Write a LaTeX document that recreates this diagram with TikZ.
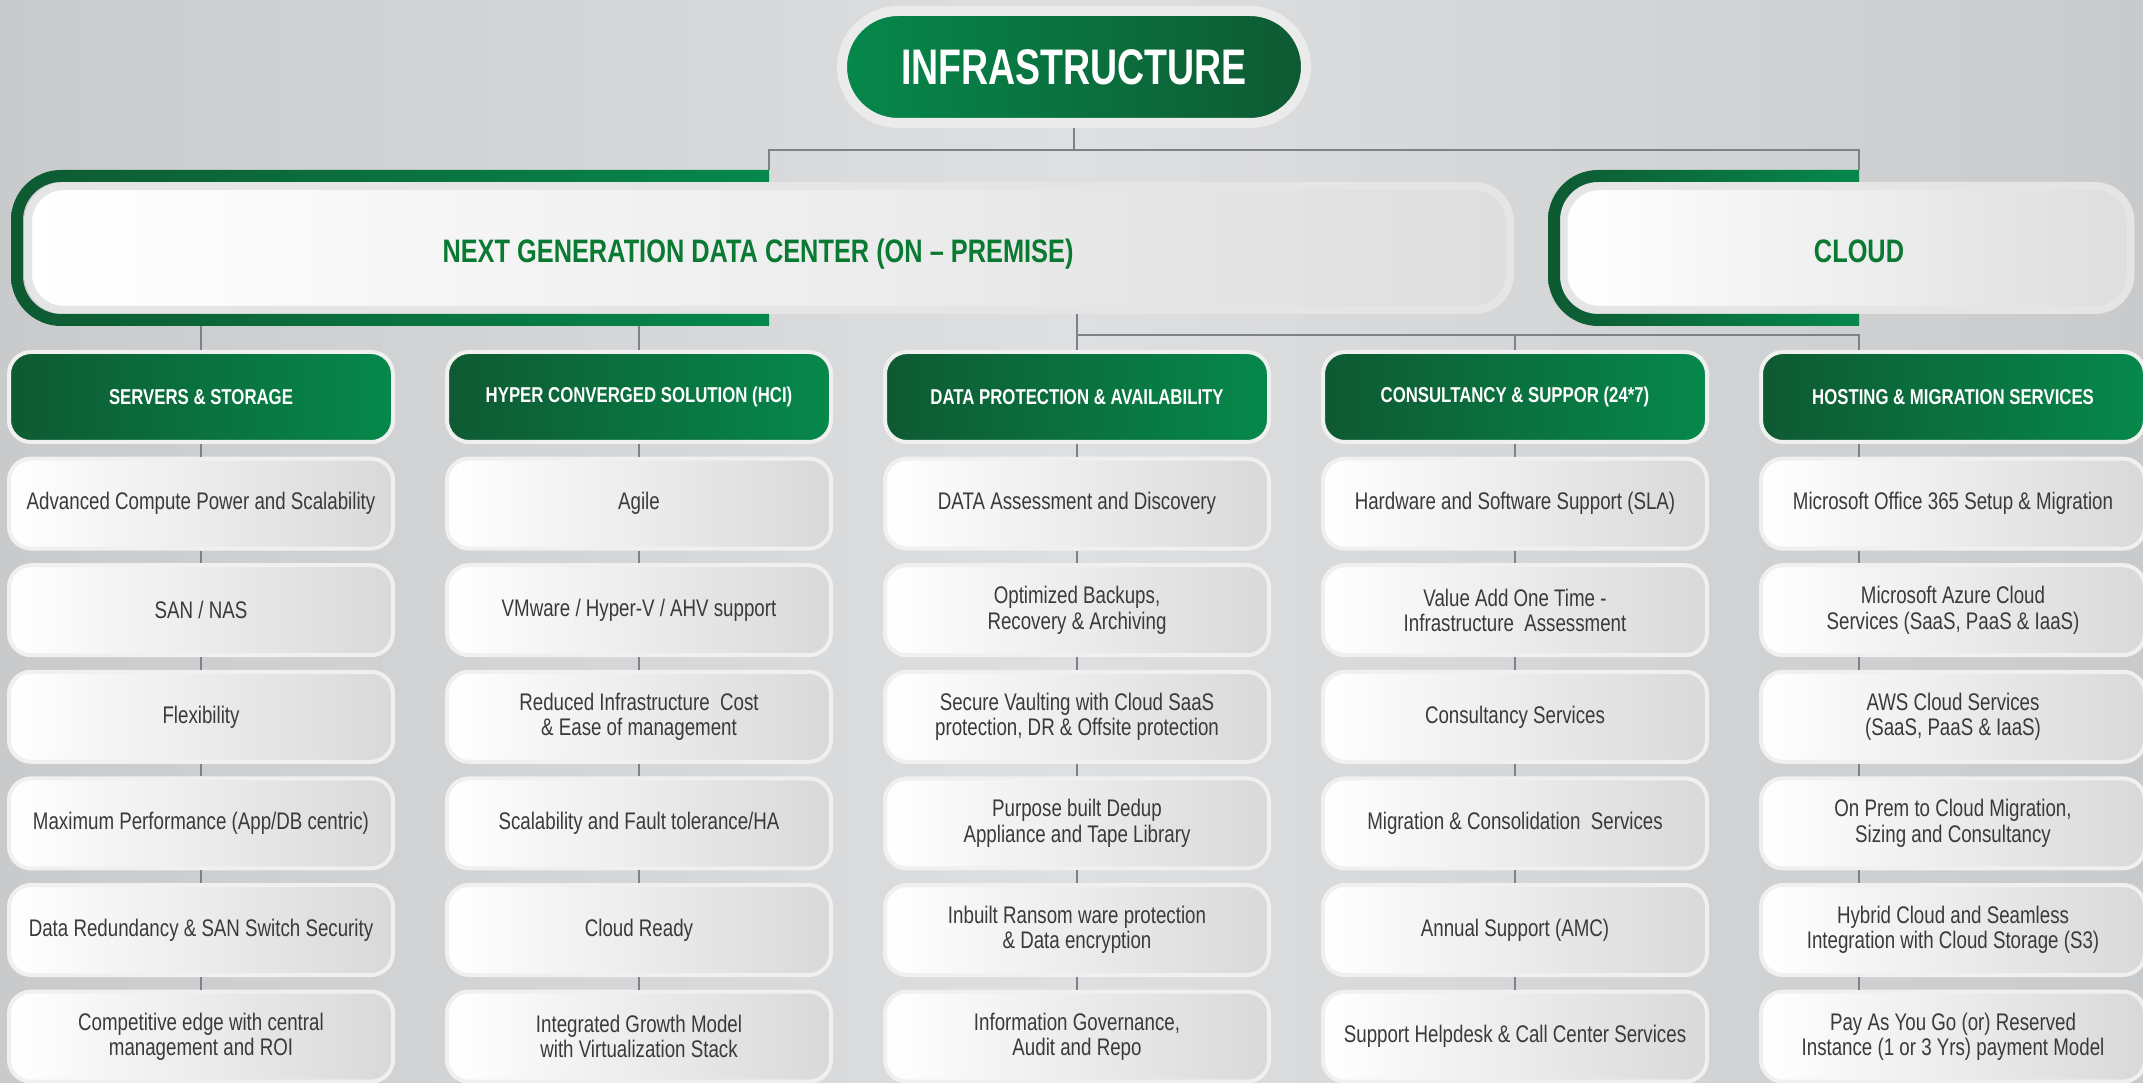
\documentclass[tikz,border=0pt]{standalone}
\usepackage{fontspec}
\setmainfont{Liberation Sans}[FakeStretch=0.78]
\newfontfamily\titlefont{Liberation Sans}[FakeStretch=0.75]
\definecolor{greendark}{HTML}{0E5A32}
\definecolor{greenlight}{HTML}{06884B}
\definecolor{lettercolor}{HTML}{0A7A33}
\definecolor{itemcolor}{HTML}{3A3A3A}
\definecolor{wirecolor}{HTML}{7E8187}
\definecolor{bgside}{HTML}{C9CACC}
\definecolor{bgmid}{HTML}{DEDFE0}
\usetikzlibrary{positioning}
\tikzset{
	topbox/.style={
		rectangle,
		rounded corners=56pt,
		draw=white!92!black,
		line width=10pt,
		left color=greenlight,
		right color=greendark,
		minimum width=464pt,
		minimum height=112pt,
		text=white,
		font=\titlefont\bfseries\fontsize{50}{60}\selectfont
	},
	pill/.style={
		rectangle,
		rounded corners=36pt,
		draw=white!90!black,
		line width=8pt,
		left color=white,
		right color=black!13,
		minimum height=124pt,
		text=lettercolor,
		font=\bfseries\fontsize{32.5}{38}\selectfont
	},
	bracket/.style={
		left color=greendark,
		right color=greenlight
	},
	headbox/.style={
		rectangle,
		rounded corners=22pt,
		draw=white!94!black,
		line width=4pt,
		left color=greendark,
		right color=greenlight,
		minimum width=384pt,
		minimum height=90pt,
		text=white,
		font=\bfseries\fontsize{21.5}{25}\selectfont
	},
	itembox/.style={
		rectangle,
		rounded corners=22pt,
		draw=white!94!black,
		line width=4pt,
		left color=white,
		right color=black!15,
		minimum width=384pt,
		minimum height=90pt,
		align=center,
		text=itemcolor,
		font=\fontsize{24}{25.5}\selectfont
	},
	wire/.style={
		draw=wirecolor,
		line width=2pt
	}
}

\begin{document}
\begin{tikzpicture}[x=1pt,y=1pt,node distance=12.6pt]
	\useasboundingbox (0,0) rectangle (2143,1082);
	\fill[left color=bgside,right color=bgside,middle color=bgmid] (0,0) rectangle (2143,1082);

	% top levels
	\node[topbox] (infra) at (1074,1015) {INFRASTRUCTURE};
	\node[pill,minimum width=1482pt] (ngdc) at (769,834) {\raisebox{-6pt}[\height][\depth]{NEXT GENERATION DATA CENTER (ON – PREMISE)}\hspace*{22pt}};
	\node[pill,minimum width=567pt] (cloud) at (1847,834) {\hspace*{24pt}\raisebox{-3pt}[\height][\depth]{CLOUD}};
	\coordinate (ngdcend) at (769,912);
	\coordinate (cloudend) at (1859,912);

	% column heads
	\node[headbox] (srv) at (201,685) {SERVERS \& STORAGE};
	\node[headbox] (hci) at (639,685) {HYPER CONVERGED SOLUTION (HCI)};
	\node[headbox] (dpa) at (1077,685) {DATA PROTECTION \& AVAILABILITY};
	\node[headbox] (csp) at (1515,685) {CONSULTANCY \& SUPPOR (24*7)};
	\node[headbox] (hms) at (1953,685) {HOSTING \& MIGRATION SERVICES};

	% servers & storage
	\node[itembox,below=of srv] (srv1) {Advanced Compute Power and Scalability};
	\node[itembox,below=of srv1] (srv2) {SAN / NAS};
	\node[itembox,below=of srv2] (srv3) {Flexibility};
	\node[itembox,below=of srv3] (srv4) {Maximum Performance (App/DB centric)};
	\node[itembox,below=of srv4] (srv5) {Data Redundancy \& SAN Switch Security};
	\node[itembox,below=of srv5] (srv6) {Competitive edge with central\\management and ROI};

	% hci
	\node[itembox,below=of hci] (hci1) {Agile};
	\node[itembox,below=of hci1] (hci2) {VMware / Hyper-V / AHV support};
	\node[itembox,below=of hci2] (hci3) {Reduced Infrastructure~ Cost\\\& Ease of management};
	\node[itembox,below=of hci3] (hci4) {Scalability and Fault tolerance/HA};
	\node[itembox,below=of hci4] (hci5) {Cloud Ready};
	\node[itembox,below=of hci5] (hci6) {Integrated Growth Model\\with Virtualization Stack};

	% data protection
	\node[itembox,below=of dpa] (dpa1) {DATA Assessment and Discovery};
	\node[itembox,below=of dpa1] (dpa2) {Optimized Backups,\\Recovery \& Archiving};
	\node[itembox,below=of dpa2] (dpa3) {Secure Vaulting with Cloud SaaS\\protection, DR \& Offsite protection};
	\node[itembox,below=of dpa3] (dpa4) {Purpose built Dedup\\Appliance and Tape Library};
	\node[itembox,below=of dpa4] (dpa5) {Inbuilt Ransom ware protection\\\& Data encryption};
	\node[itembox,below=of dpa5] (dpa6) {Information Governance,\\Audit and Repo};

	% consultancy
	\node[itembox,below=of csp] (csp1) {Hardware and Software Support (SLA)};
	\node[itembox,below=of csp1] (csp2) {Value Add One Time -\\Infrastructure~ Assessment};
	\node[itembox,below=of csp2] (csp3) {Consultancy Services};
	\node[itembox,below=of csp3] (csp4) {Migration \& Consolidation~ Services};
	\node[itembox,below=of csp4] (csp5) {Annual Support (AMC)};
	\node[itembox,below=of csp5] (csp6) {Support Helpdesk \& Call Center Services};

	% hosting
	\node[itembox,below=of hms] (hms1) {Microsoft Office 365 Setup \& Migration};
	\node[itembox,below=of hms1] (hms2) {Microsoft Azure Cloud\\Services (SaaS, PaaS \& IaaS)};
	\node[itembox,below=of hms2] (hms3) {AWS Cloud Services\\(SaaS, PaaS \& IaaS)};
	\node[itembox,below=of hms3] (hms4) {On Prem to Cloud Migration,\\Sizing and Consultancy};
	\node[itembox,below=of hms4] (hms5) {Hybrid Cloud and Seamless\\Integration with Cloud Storage (S3)};
	\node[itembox,below=of hms5] (hms6) {Pay As You Go (or) Reserved\\Instance (1 or 3 Yrs) payment Model};

	% connectors
	\draw[wire] (infra.south) -- ++(0,-22) coordinate (topbus);
	\draw[wire] (ngdcend) |- (topbus) -| (cloudend);
	\draw[wire] (ngdc.south -| srv) -- (srv.north);
	\draw[wire] (ngdc.south -| hci) -- (hci.north);
	\draw[wire] (ngdc.south -| dpa) -- (dpa.north);
	\draw[wire] (ngdc.south -| dpa) ++(0,-21) coordinate (lowbus) -| (csp.north);
	\draw[wire] (lowbus) -| (hms.north -| cloudend);
	\draw[wire] (srv) -- (srv1) -- (srv2) -- (srv3) -- (srv4) -- (srv5) -- (srv6);
	\draw[wire] (hci) -- (hci1) -- (hci2) -- (hci3) -- (hci4) -- (hci5) -- (hci6);
	\draw[wire] (dpa) -- (dpa1) -- (dpa2) -- (dpa3) -- (dpa4) -- (dpa5) -- (dpa6);
	\draw[wire] (csp) -- (csp1) -- (csp2) -- (csp3) -- (csp4) -- (csp5) -- (csp6);
	\draw[wire] (hms.south -| cloudend) -- (hms1.north -| cloudend)
		(hms1.south -| cloudend) -- (hms2.north -| cloudend)
		(hms2.south -| cloudend) -- (hms3.north -| cloudend)
		(hms3.south -| cloudend) -- (hms4.north -| cloudend)
		(hms4.south -| cloudend) -- (hms5.north -| cloudend)
		(hms5.south -| cloudend) -- (hms6.north -| cloudend);

	% green brackets
	\path[bracket] (769,912) [rounded corners=50pt] -- (11,912) -- (11,756) [sharp corners] -- (769,756) -- (769,768)
		[rounded corners=38pt] -- (23,768) -- (23,900) [sharp corners] -- (769,900) -- cycle;
	\path[bracket] (1859,912) [rounded corners=50pt] -- (1548,912) -- (1548,756) [sharp corners] -- (1859,756) -- (1859,768)
		[rounded corners=38pt] -- (1560,768) -- (1560,900) [sharp corners] -- (1859,900) -- cycle;
\end{tikzpicture}
\end{document}
